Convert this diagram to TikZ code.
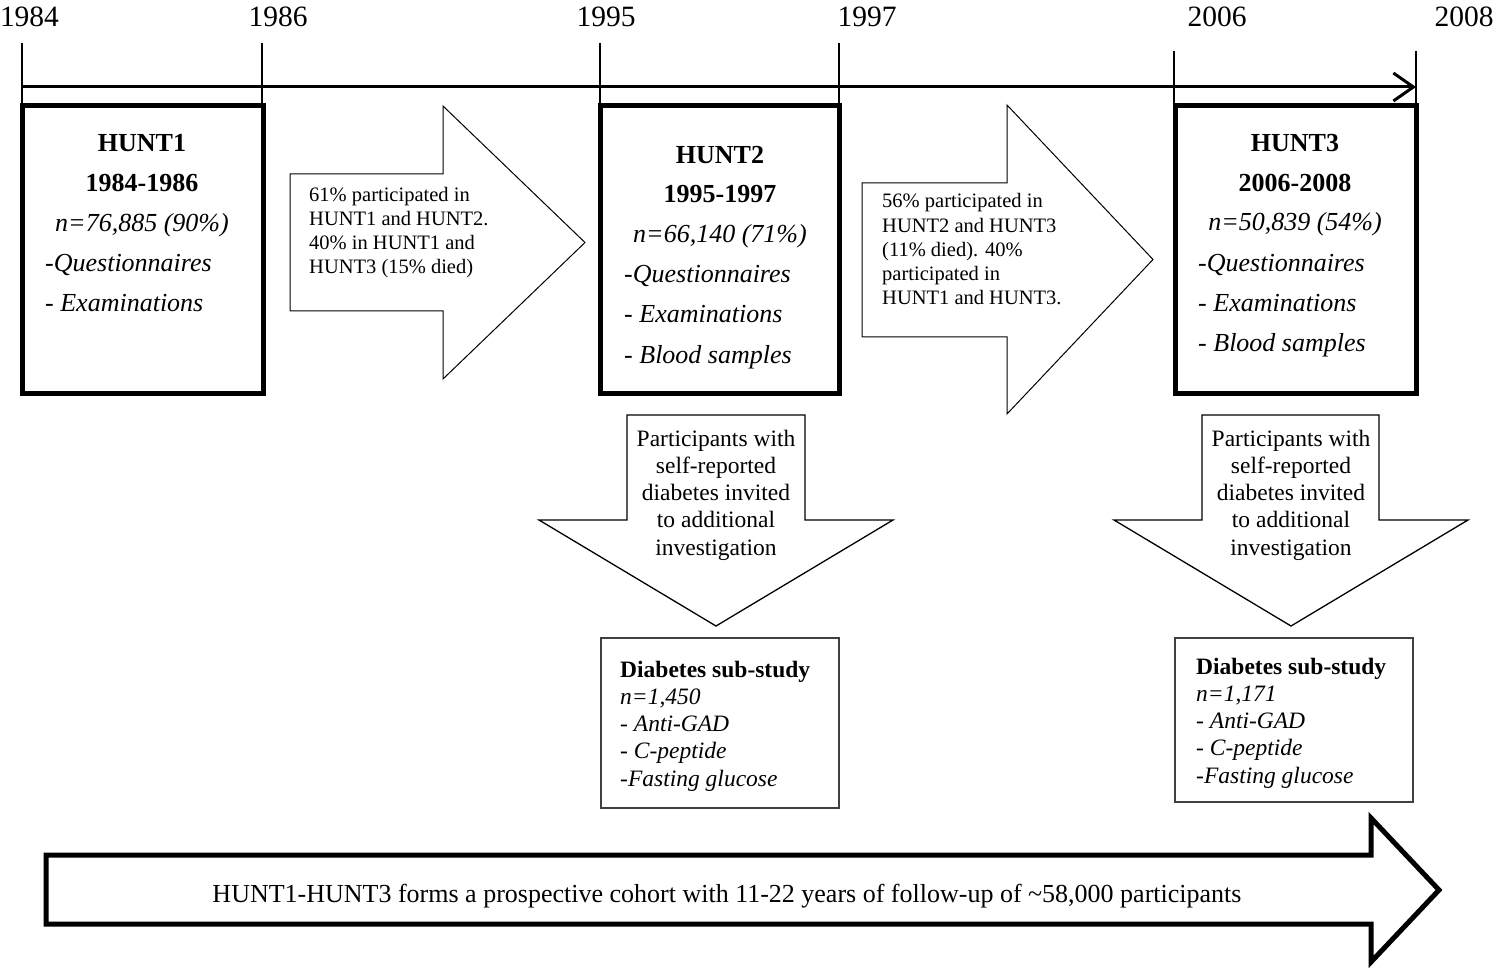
\documentclass[tikz,border=0pt]{standalone}
\usepackage{fontspec}
\setmainfont{Liberation Serif}
\usetikzlibrary{arrows.meta}
\begin{document}
\begin{tikzpicture}[x=1pt,y=-1pt,
  year/.style={font=\fontsize{29.5}{32}\selectfont, anchor=base, inner sep=0pt},
  tick/.style={line width=2pt},
  hbox/.style={draw, line width=5pt, anchor=north west, inner sep=0pt, outer sep=0pt},
  htitle/.style={font=\fontsize{26}{30}\selectfont\bfseries, anchor=base, inner sep=0pt},
  hcount/.style={font=\fontsize{26}{30}\selectfont\itshape, anchor=base, inner sep=0pt},
  hitem/.style={font=\fontsize{26}{30}\selectfont\itshape, anchor=base west, inner sep=0pt},
  rarrow/.style={draw, line width=1pt, line join=miter},
  rtext/.style={font=\fontsize{20.5}{24.3}\selectfont, align=left, anchor=base west, inner sep=0pt},
  darrow/.style={draw, line width=1.3pt, line join=miter},
  dtext/.style={font=\fontsize{23.5}{27.1}\selectfont, align=center, anchor=base, inner sep=0pt},
  sbox/.style={draw=black!75, line width=1.3pt, anchor=north west, inner sep=0pt, outer sep=0pt},
  stext/.style={font=\fontsize{23.5}{27.2}\selectfont, align=left, anchor=base west, inner sep=0pt},
  barrow/.style={draw, line width=5pt, line join=miter},
  btext/.style={font=\fontsize{26}{30}\selectfont, anchor=base, inner sep=0pt}
]
\useasboundingbox (0,0) rectangle (1497,968);

% years
\node[year] (y1984) at (29.5,27) {1984};
\node[year] (y1986) at (278,27) {1986};
\node[year] (y1995) at (606,27) {1995};
\node[year] (y1997) at (867,27) {1997};
\node[year] (y2006) at (1217,27) {2006};
\node[year] (y2008) at (1464,27) {2008};

% ticks
\coordinate (ta1) at (22,43);   \coordinate (tb1) at (22,106);
\coordinate (ta2) at (262,43);  \coordinate (tb2) at (262,106);
\coordinate (ta3) at (600,43);  \coordinate (tb3) at (600,106);
\coordinate (ta4) at (839,43);  \coordinate (tb4) at (839,106);
\coordinate (ta5) at (1174,51); \coordinate (tb5) at (1174,106);
\coordinate (ta6) at (1416,51); \coordinate (tb6) at (1416,106);
\foreach \i in {1,...,6} \draw[tick] (ta\i) -- (tb\i);

% timeline
\coordinate (tl0) at (22,87);
\coordinate (tl1) at (1416,87);
\draw[line width=3pt, -{Straight Barb[length=20pt,width=28pt,line width=3pt]}] (tl0) -- (tl1);

% HUNT boxes
\node[hbox, minimum width=241pt, minimum height=287pt] (h1) at (22,106) {};
\node[hbox, minimum width=239pt, minimum height=287pt] (h2) at (600,106) {};
\node[hbox, minimum width=241pt, minimum height=287pt] (h3) at (1175,106) {};

\node[htitle] (h1a) at (142,152) {HUNT1};
\node[htitle] (h1b) at (142,192) {1984-1986};
\node[hcount] (h1c) at (142,232) {n=76,885 (90\%)};
\node[hitem] (h1d) at (45,272) {-Questionnaires};
\node[hitem] (h1e) at (45,312) {- Examinations};

\node[htitle] (h2a) at (720,164) {HUNT2};
\node[htitle] (h2b) at (720,203) {1995-1997};
\node[hcount] (h2c) at (720,243) {n=66,140 (71\%)};
\node[hitem] (h2d) at (624,283) {-Questionnaires};
\node[hitem] (h2e) at (624,323) {- Examinations};
\node[hitem] (h2f) at (624,363) {- Blood samples};

\node[htitle] (h3a) at (1295,152) {HUNT3};
\node[htitle] (h3b) at (1295,192) {2006-2008};
\node[hcount] (h3c) at (1295,231) {n=50,839 (54\%)};
\node[hitem] (h3d) at (1198,272) {-Questionnaires};
\node[hitem] (h3e) at (1198,312) {- Examinations};
\node[hitem] (h3f) at (1198,352) {- Blood samples};

% right arrows between boxes
\path[rarrow] (290,174) -- (443,174) -- (443,106) -- (585,242.5) -- (443,379) -- (443,311) -- (290,311) -- cycle;
\node[rtext] (r1) at (309,274) {61\% participated in\\HUNT1 and HUNT2.\\40\% in HUNT1 and\\HUNT3 (15\% died)};

\path[rarrow] (862,183) -- (1007,183) -- (1007,105) -- (1153,259.5) -- (1007,414) -- (1007,337) -- (862,337) -- cycle;
\node[rtext] (r2) at (882,305) {56\% participated in\\HUNT2 and HUNT3\\(11\% died). 40\%\\participated in\\HUNT1 and HUNT3.};

% down arrows
\path[darrow] (627,415) -- (805,415) -- (805,520) -- (893,520) -- (716,626) -- (539,520) -- (627,520) -- cycle;
\node[dtext] (d1) at (716,555) {Participants with\\self-reported\\diabetes invited\\to additional\\investigation};

\path[darrow] (1202,415) -- (1379,415) -- (1379,520) -- (1468,520) -- (1291,626) -- (1114,520) -- (1202,520) -- cycle;
\node[dtext] (d2) at (1291,555) {Participants with\\self-reported\\diabetes invited\\to additional\\investigation};

% sub-study boxes
\node[sbox, minimum width=238pt, minimum height=170pt] (s1) at (601,638) {};
\node[stext] (s1t) at (620,786) {\textbf{Diabetes sub-study}\\\textit{n=1,450}\\\textit{- Anti-GAD}\\\textit{- C-peptide}\\\textit{-Fasting glucose}};

\node[sbox, minimum width=238pt, minimum height=164pt] (s2) at (1175,638) {};
\node[stext] (s2t) at (1196,783) {\textbf{Diabetes sub-study}\\\textit{n=1,171}\\\textit{- Anti-GAD}\\\textit{- C-peptide}\\\textit{-Fasting glucose}};

% bottom arrow
\path[barrow] (46,855) -- (1371,855) -- (1371,818) -- (1439,890) -- (1371,962) -- (1371,924) -- (46,924) -- cycle;
\node[btext] (bt) at (727,902) {HUNT1-HUNT3 forms a prospective cohort with 11-22 years of follow-up of \textasciitilde58,000 participants};
\end{tikzpicture}
\end{document}
